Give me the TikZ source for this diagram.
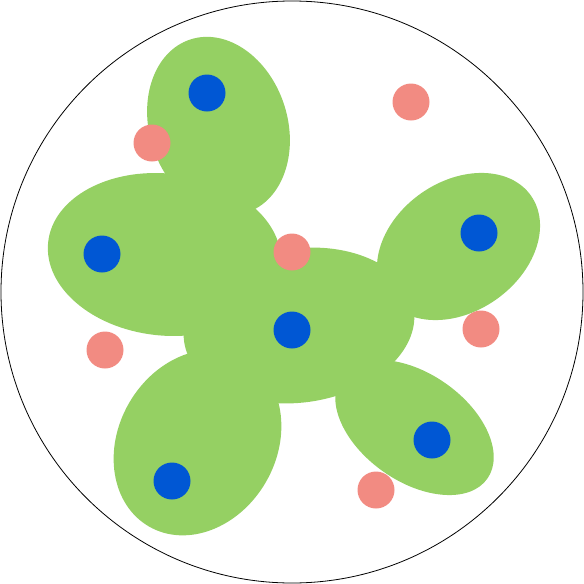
\documentclass[tikz,border=0pt]{standalone}
\definecolor{blobgreen}{RGB}{149,208,99}
\definecolor{dotblue}{RGB}{0,87,212}
\definecolor{dotsalmon}{RGB}{242,139,130}
\begin{document}
\begin{tikzpicture}[x=1pt,y=-1pt,
  blob/.style={fill=blobgreen,draw=none},
  bluedot/.style={fill=dotblue,draw=none},
  reddot/.style={fill=dotsalmon,draw=none}]
\useasboundingbox (0,0) rectangle (584,584);
\draw[black,line width=0.8pt] (292,292) circle [radius=291];
% blobs
\fill[blob,rotate around={18:(218.5,126)}] (218.5,126) ellipse [x radius=69, y radius=91];
\fill[blob,rotate around={-6:(164.5,254.5)}] (164.5,254.5) ellipse [x radius=117, y radius=81];
\fill[blob,rotate around={8:(299,325.5)}] (299,325.5) ellipse [x radius=116, y radius=77];
\fill[blob,rotate around={35:(458.5,246.5)}] (458.5,246.5) ellipse [x radius=88.5, y radius=65];
\fill[blob,rotate around={-30:(197.5,442.5)}] (197.5,442.5) ellipse [x radius=79, y radius=97];
\fill[blob,rotate around={-35:(414.5,427.5)}] (414.5,427.5) ellipse [x radius=89, y radius=54];
% blue dots
\foreach \p in {(207,93),(102,254),(292,330),(479,233),(172,481),(432,440)}
  \fill[bluedot] \p circle [radius=18.5];
% salmon dots
\foreach \p in {(152,143),(411,102),(292,252),(481,329),(105,350),(376,490)}
  \fill[reddot] \p circle [radius=18.5];
\end{tikzpicture}
\end{document}
